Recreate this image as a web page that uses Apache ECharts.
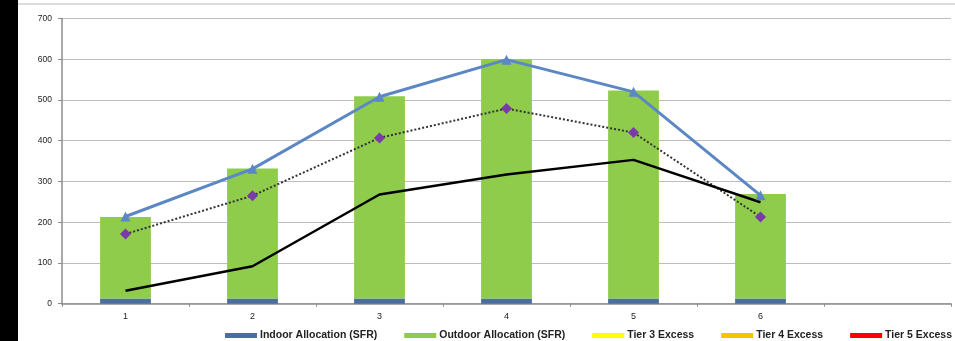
<!DOCTYPE html>
<html style="height: 100%">
  <head>
    <meta charset="utf-8" />
  </head>
  <body style="height: 100%; margin: 0; background: #fff">
    <div id="container" style="width: 955px; height: 341px"></div>

    <script
      type="text/javascript"
      src="https://cdn.jsdelivr.net/npm/echarts@6/dist/echarts.min.js"
    ></script>

    <script type="text/javascript">
      // categories (7th slot left empty like the original sheet)
      var categories = ["1", "2", "3", "4", "5", "6", ""];

      // stacked bars
      var indoorAlloc = [13, 13, 13, 13, 13, 13];
      var outdoorAlloc = [200, 319, 496, 587, 510, 256];
      var tier3 = [0, 0, 0, 0, 0, 0];
      var tier4 = [0, 0, 0, 0, 0, 0];
      var tier5 = [0, 0, 0, 0, 0, 0];

      // lines
      var blueLine = [214, 331, 508, 599, 520, 266];
      var purpleLine = [171, 265, 407, 479, 420, 213];
      var blackLine = [32, 92, 268, 317, 353, 249];

      var yTicks = [0, 100, 200, 300, 400, 500, 600, 700];

      var dom = document.getElementById("container");
      var myChart = echarts.init(dom, null, { renderer: "canvas" });

      var fontFamily = "Liberation Sans, Arial, sans-serif";

      var option = {
        backgroundColor: "#fff",
        animation: false,
        textStyle: { fontFamily: fontFamily },
        graphic: [
          {
            type: "rect",
            left: 0,
            top: 0,
            shape: { width: 18, height: 341 },
            style: { fill: "#000" },
          },
          {
            type: "rect",
            left: 18,
            top: 3,
            shape: { width: 937, height: 2 },
            style: { fill: "#dcdcdc" },
          },
        ],
        legend: {
          left: 225,
          top: 330,
          padding: 0,
          itemWidth: 32,
          itemHeight: 5,
          itemGap: 27,
          icon: "rect",
          textStyle: {
            fontSize: 10.5,
            fontWeight: "bold",
            color: "#222",
            padding: [0, 0, 0, -2],
          },
          data: [
            "Indoor Allocation (SFR)",
            "Outdoor Allocation (SFR)",
            "Tier 3 Excess",
            "Tier 4 Excess",
            "Tier 5 Excess",
          ],
        },
        grid: {
          left: 62,
          right: 4,
          top: 18.5,
          bottom: 37.3,
        },
        xAxis: {
          type: "category",
          data: categories,
          boundaryGap: true,
          axisLine: { lineStyle: { color: "#8c8c8c", width: 1.5 } },
          axisTick: { show: true, length: 3, lineStyle: { color: "#8c8c8c" } },
          axisLabel: { color: "#222", fontSize: 9, margin: 8 },
        },
        yAxis: {
          type: "value",
          min: yTicks[0],
          max: yTicks[yTicks.length - 1],
          interval: 100,
          axisLine: { show: true, lineStyle: { color: "#8c8c8c", width: 1.5 } },
          axisTick: { show: true, length: 4, lineStyle: { color: "#8c8c8c" } },
          axisLabel: { color: "#222", fontSize: 8.5, margin: 10 },
          splitLine: { lineStyle: { color: "#bdbdbd", width: 1 } },
        },
        series: [
          {
            name: "Indoor Allocation (SFR)",
            type: "bar",
            stack: "alloc",
            barWidth: "40%",
            itemStyle: { color: "#4a6f9c" },
            data: indoorAlloc,
          },
          {
            name: "Outdoor Allocation (SFR)",
            type: "bar",
            stack: "alloc",
            itemStyle: { color: "#8fcc4b" },
            data: outdoorAlloc,
          },
          {
            name: "Tier 3 Excess",
            type: "bar",
            stack: "alloc",
            itemStyle: { color: "#ffff00" },
            data: tier3,
          },
          {
            name: "Tier 4 Excess",
            type: "bar",
            stack: "alloc",
            itemStyle: { color: "#ffc000" },
            data: tier4,
          },
          {
            name: "Tier 5 Excess",
            type: "bar",
            stack: "alloc",
            itemStyle: { color: "#ff0000" },
            data: tier5,
          },
          {
            name: "Total",
            type: "line",
            symbol: "triangle",
            symbolSize: 10,
            lineStyle: { color: "#5b87c5", width: 3 },
            itemStyle: { color: "#5b87c5" },
            data: blueLine,
          },
          {
            name: "Average",
            type: "line",
            symbol: "diamond",
            symbolSize: 11,
            lineStyle: { color: "#333", width: 2, type: [2, 2] },
            itemStyle: { color: "#7a3aa8" },
            data: purpleLine,
          },
          {
            name: "Actual",
            type: "line",
            symbol: "none",
            lineStyle: { color: "#000", width: 2.5 },
            data: blackLine,
          },
        ],
      };

      option && myChart.setOption(option);
    </script>
  </body>
</html>
